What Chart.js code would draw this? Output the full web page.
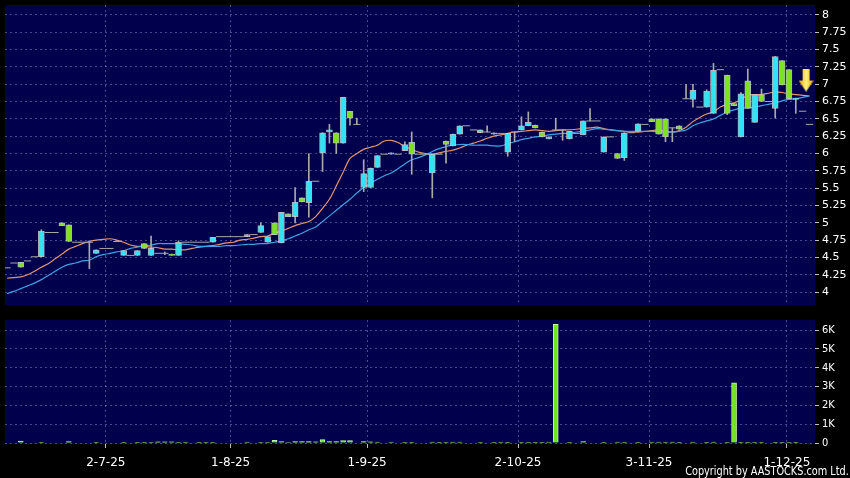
<!DOCTYPE html>
<html>
<head>
<meta charset="utf-8">
<script src="https://cdn.jsdelivr.net/npm/chart.js@4.4.1/dist/chart.umd.min.js"></script>
<style>
  html, body { margin: 0; padding: 0; background: #000; }
  #marco { position: relative; width: 850px; height: 478px; overflow: hidden; background: #000; }
  #precio { position: absolute; left: 0; top: 0; }
  #volumen { position: absolute; left: 0; top: 310px; }
  #copy { position: absolute; right: 1px; top: 464px; color: #fff;
          font: 12px "Liberation Sans Narrow", "DejaVu Sans Condensed", sans-serif; white-space: nowrap;
          transform: scaleX(0.9); transform-origin: right top; }
</style>
</head>
<body>
<div id="marco">
  <canvas id="precio" width="850" height="310"></canvas>
  <canvas id="volumen" width="850" height="168"></canvas>
  <div id="copy">Copyright by AASTOCKS.com Ltd.</div>
</div>
<script>
// Velas diarias (apertura, máximo, mínimo, cierre)
const apertura = [
  4.35, 4.42, 4.43, 4.45, 4.51, 4.51, 4.86, 4.86, 5.00, 4.97,
  4.72, 4.72, 4.72, 4.56, 4.63, 4.63, 4.73, 4.53, 4.53, 4.53,
  4.70, 4.53, 4.56, 4.56, 4.55, 4.53, 4.72, 4.72, 4.72, 4.72,
  4.72, 4.80, 4.80, 4.80, 4.80, 4.80, 4.83, 4.86, 4.72, 5.00,
  4.71, 5.13, 5.09, 5.36, 5.29, 5.60, 6.01, 6.31, 6.30, 6.15,
  6.61, 6.42, 5.51, 5.51, 5.80, 5.99, 6.01, 5.99, 6.04, 6.16,
  5.99, 5.99, 5.72, 5.99, 6.18, 6.11, 6.28, 6.40, 6.34, 6.30,
  6.31, 6.30, 6.29, 6.02, 6.31, 6.34, 6.40, 6.41, 6.31, 6.21,
  6.34, 6.34, 6.21, 6.29, 6.27, 6.47, 6.47, 6.02, 6.24, 6.00,
  5.94, 6.30, 6.32, 6.42, 6.50, 6.50, 6.50, 6.37, 6.40, 6.79,
  6.78, 6.67, 6.67, 6.58, 7.21, 7.13, 6.72, 6.24, 7.05, 6.45,
  6.85, 6.75, 6.65, 7.34, 7.21, 6.78, 6.61, 6.42
];
const maximo = [
  4.35, 4.42, 4.43, 4.45, 4.51, 4.90, 4.86, 4.86, 5.00, 4.97,
  4.72, 4.72, 4.74, 4.61, 4.63, 4.63, 4.73, 4.60, 4.53, 4.60,
  4.70, 4.81, 4.56, 4.58, 4.55, 4.74, 4.72, 4.72, 4.72, 4.72,
  4.79, 4.80, 4.80, 4.80, 4.80, 4.83, 4.83, 5.00, 4.80, 5.00,
  5.15, 5.13, 5.51, 5.36, 6.00, 5.60, 6.30, 6.42, 6.30, 6.81,
  6.61, 6.51, 5.91, 5.79, 5.97, 5.99, 6.01, 5.99, 6.17, 6.31,
  5.99, 5.99, 5.99, 5.99, 6.18, 6.28, 6.40, 6.40, 6.34, 6.34,
  6.40, 6.30, 6.29, 6.29, 6.31, 6.53, 6.60, 6.41, 6.31, 6.24,
  6.51, 6.34, 6.32, 6.29, 6.47, 6.65, 6.47, 6.24, 6.24, 6.00,
  6.30, 6.30, 6.43, 6.42, 6.50, 6.50, 6.50, 6.37, 6.40, 7.00,
  7.00, 6.67, 6.92, 7.30, 7.21, 7.13, 6.72, 6.88, 7.22, 6.85,
  6.93, 6.75, 7.40, 7.34, 7.21, 6.80, 6.61, 6.42
];
const minimo = [
  4.35, 4.42, 4.36, 4.45, 4.51, 4.51, 4.86, 4.86, 4.96, 4.73,
  4.72, 4.72, 4.34, 4.56, 4.63, 4.63, 4.73, 4.53, 4.53, 4.53,
  4.63, 4.53, 4.56, 4.54, 4.53, 4.53, 4.72, 4.72, 4.72, 4.72,
  4.72, 4.80, 4.80, 4.80, 4.80, 4.80, 4.83, 4.86, 4.72, 4.83,
  4.71, 5.09, 5.00, 5.30, 5.08, 5.60, 5.74, 6.15, 6.00, 6.15,
  6.41, 6.42, 5.45, 5.51, 5.80, 5.99, 5.99, 5.99, 6.04, 5.70,
  5.99, 5.99, 5.36, 5.99, 5.86, 6.11, 6.28, 6.40, 6.34, 6.30,
  6.31, 6.28, 6.29, 5.96, 6.17, 6.34, 6.40, 6.37, 6.24, 6.21,
  6.34, 6.19, 6.21, 6.29, 6.27, 6.47, 6.47, 6.02, 6.24, 5.93,
  5.90, 6.30, 6.32, 6.42, 6.46, 6.28, 6.17, 6.17, 6.35, 6.79,
  6.67, 6.67, 6.67, 6.58, 7.21, 6.56, 6.69, 6.24, 6.65, 6.45,
  6.75, 6.75, 6.51, 6.99, 6.79, 6.58, 6.61, 6.42
];
const cierre = [
  4.35, 4.42, 4.36, 4.45, 4.51, 4.88, 4.86, 4.86, 4.96, 4.73,
  4.72, 4.72, 4.72, 4.61, 4.63, 4.63, 4.73, 4.60, 4.53, 4.60,
  4.63, 4.63, 4.56, 4.56, 4.53, 4.72, 4.72, 4.72, 4.72, 4.72,
  4.79, 4.80, 4.80, 4.80, 4.80, 4.83, 4.83, 4.96, 4.80, 4.83,
  5.15, 5.09, 5.30, 5.30, 5.60, 5.60, 6.30, 6.34, 6.15, 6.81,
  6.51, 6.42, 5.71, 5.79, 5.97, 5.99, 5.99, 5.99, 6.13, 5.99,
  5.99, 5.99, 5.99, 5.99, 6.13, 6.28, 6.40, 6.40, 6.34, 6.34,
  6.31, 6.28, 6.29, 6.29, 6.31, 6.40, 6.45, 6.37, 6.24, 6.24,
  6.34, 6.34, 6.32, 6.29, 6.47, 6.47, 6.47, 6.24, 6.24, 5.93,
  6.30, 6.30, 6.43, 6.42, 6.46, 6.28, 6.24, 6.37, 6.35, 6.79,
  6.91, 6.67, 6.90, 7.20, 7.21, 6.58, 6.69, 6.86, 6.65, 6.85,
  6.75, 6.75, 7.40, 6.99, 6.79, 6.80, 6.61, 6.42
];
// Medias móviles (naranja = corta, azul = larga)
const mediaCorta = [
  4.20, 4.21, 4.22, 4.25, 4.30, 4.36, 4.41, 4.48, 4.55, 4.62,
  4.66, 4.70, 4.73, 4.75, 4.76, 4.77, 4.75, 4.72, 4.68, 4.66,
  4.66, 4.65, 4.64, 4.62, 4.62, 4.61, 4.61, 4.63, 4.65, 4.66,
  4.67, 4.69, 4.71, 4.72, 4.75, 4.76, 4.78, 4.80, 4.81, 4.85,
  4.88, 4.92, 4.96, 4.99, 5.02, 5.09, 5.21, 5.34, 5.53, 5.73,
  5.93, 6.00, 6.06, 6.09, 6.12, 6.18, 6.19, 6.16, 6.10, 6.06,
  6.02, 6.00, 5.99, 6.01, 6.03, 6.05, 6.08, 6.12, 6.15, 6.18,
  6.22, 6.25, 6.27, 6.29, 6.31, 6.32, 6.33, 6.34, 6.33, 6.32,
  6.33, 6.34, 6.34, 6.35, 6.36, 6.37, 6.38, 6.36, 6.34, 6.33,
  6.32, 6.31, 6.31, 6.32, 6.33, 6.34, 6.32, 6.31, 6.33, 6.38,
  6.46, 6.52, 6.57, 6.60, 6.67, 6.71, 6.73, 6.78, 6.84, 6.85,
  6.85, 6.87, 6.89, 6.88, 6.86, 6.85, 6.84, 6.83
];
const mediaLarga = [
  3.98, 4.01, 4.05, 4.09, 4.13, 4.18, 4.24, 4.30, 4.36, 4.40,
  4.42, 4.45, 4.46, 4.51, 4.54, 4.56, 4.58, 4.60, 4.63, 4.65,
  4.67, 4.68, 4.70, 4.70, 4.70, 4.70, 4.69, 4.68, 4.66, 4.66,
  4.66, 4.66, 4.67, 4.67, 4.68, 4.69, 4.69, 4.70, 4.70, 4.72,
  4.74, 4.77, 4.81, 4.85, 4.90, 4.94, 5.02, 5.10, 5.18, 5.26,
  5.34, 5.43, 5.51, 5.57, 5.63, 5.68, 5.72, 5.78, 5.85, 5.91,
  5.94, 5.98, 6.03, 6.07, 6.10, 6.12, 6.13, 6.13, 6.12, 6.12,
  6.12, 6.11, 6.11, 6.14, 6.17, 6.20, 6.22, 6.24, 6.25, 6.27,
  6.28, 6.29, 6.29, 6.31, 6.32, 6.34, 6.36, 6.35, 6.34, 6.33,
  6.32, 6.32, 6.32, 6.32, 6.32, 6.31, 6.31, 6.31, 6.32, 6.34,
  6.40, 6.44, 6.47, 6.50, 6.55, 6.60, 6.63, 6.65, 6.66, 6.67,
  6.69, 6.71, 6.73, 6.76, 6.78, 6.79, 6.81, 6.83
];
// Volumen diario (acciones)
const volumen = [
  0, 0, 100, 0, 0, 20, 0, 0, 0, 70,
  0, 0, 0, 20, 0, 0, 0, 20, 0, 20,
  20, 30, 60, 60, 60, 20, 50, 0, 40, 40,
  20, 0, 0, 0, 0, 50, 0, 30, 30, 140,
  80, 30, 70, 70, 70, 60, 180, 70, 70, 130,
  130, 0, 70, 60, 50, 0, 50, 0, 40, 40,
  0, 0, 50, 40, 20, 50, 50, 0, 0, 20,
  0, 20, 50, 20, 0, 20, 20, 20, 20, 50,
  6300, 0, 20, 0, 80, 0, 0, 20, 0, 50,
  20, 0, 20, 0, 50, 50, 50, 50, 20, 0,
  50, 0, 20, 50, 0, 20, 3200, 20, 20, 20,
  20, 0, 40, 20, 20, 20, 0, 0
];
// Fechas del eje X y su posición dentro de la serie
const fechas = ["2-7-25", "1-8-25", "1-9-25", "2-10-25", "3-11-25", "1-12-25"];
const posFechas = [14.4, 32.6, 52.5, 74.5, 93.6, 113.7];
const marcasPrecio = [4, 4.25, 4.5, 4.75, 5, 5.25, 5.5, 5.75, 6, 6.25, 6.5, 6.75, 7, 7.25, 7.5, 7.75, 8];
const marcasVolumen = [0, 1000, 2000, 3000, 4000, 5000, 6000];
const flechaEn = [116.5, 7.06]; // flecha amarilla sobre la última vela

Chart.defaults.font.family = "DejaVu Sans";
Chart.defaults.font.size = 11;
Chart.defaults.color = "#ffffff";

const CIAN = "#30e4f4";
const VERDE = "#80e21c";
const GRIS = "#a9a9a9";
const REJILLA = "rgba(120,120,185,0.6)";

const fondoPanel = {
  id: "fondoPanel",
  beforeDraw(chart) {
    const { ctx, chartArea: a } = chart;
    ctx.save();
    ctx.fillStyle = "#000";
    ctx.fillRect(0, 0, chart.width, chart.height);
    ctx.fillStyle = "#00004c";
    ctx.fillRect(a.left, a.top, a.right - a.left, a.bottom - a.top);
    ctx.restore();
  }
};

// ancho fijo del eje derecho y sin margen extra arriba/abajo por las etiquetas
const ajusteEjeY = s => { s.width = 35; s.paddingTop = 0; s.paddingBottom = 0; };

// armar velas
const cuerpos = [], mechas = [], rayas = [];
cierre.forEach((c, i) => {
  const o = apertura[i];
  if (maximo[i] > minimo[i]) mechas.push({ x: i, y: [minimo[i], maximo[i]] });
  if (o === c) rayas.push({ x: i, y: c });
  else cuerpos.push({ x: i, y: [o, c], sube: c > o });
});

// flecha amarilla
const flecha = document.createElement("canvas");
flecha.width = 15; flecha.height = 23;
(function () {
  const g = flecha.getContext("2d");
  const gr = g.createLinearGradient(0, 0, 15, 0);
  gr.addColorStop(0, "#e3a200");
  gr.addColorStop(0.5, "#fff27a");
  gr.addColorStop(1, "#e3a200");
  g.fillStyle = gr;
  g.beginPath();
  g.moveTo(4, 0); g.lineTo(11, 0); g.lineTo(11, 12); g.lineTo(15, 12);
  g.lineTo(7.5, 23); g.lineTo(0, 12); g.lineTo(4, 12); g.closePath();
  g.fill();
})();

const ejeX = {
  type: "linear",
  offset: false,
  min: -0.3,
  max: 117.8,
  afterBuildTicks: s => { s.ticks = posFechas.map(v => ({ value: v })); },
  grid: { color: REJILLA, drawTicks: false, offset: false },
  border: { display: false, dash: [2, 3] },
  ticks: { display: false }
};

new Chart(document.getElementById("precio"), {
  type: "bar",
  data: {
    datasets: [
      { type: "line", data: mediaCorta.map((v, i) => ({ x: i, y: v })), borderColor: "#e39572",
        borderWidth: 1.2, pointRadius: 0, tension: 0.3, order: 5 },
      { type: "line", data: mediaLarga.map((v, i) => ({ x: i, y: v })), borderColor: "#3fa2e6",
        borderWidth: 1.2, pointRadius: 0, tension: 0.3, order: 4 },
      { data: mechas, backgroundColor: GRIS, barThickness: 1, grouped: false, order: 3 },
      { data: cuerpos, grouped: false, barThickness: 6, borderWidth: 1, borderSkipped: false,
        borderColor: "rgba(200,210,210,0.85)",
        backgroundColor: ctx => (ctx.raw && ctx.raw.sube ? CIAN : VERDE), order: 2 },
      { type: "line", data: rayas, showLine: false, pointStyle: "line", pointRadius: 3.6,
        borderColor: GRIS, borderWidth: 1, order: 1 },
      { type: "line", data: [{ x: flechaEn[0], y: flechaEn[1] }], showLine: false,
        pointStyle: flecha, order: 0 }
    ]
  },
  options: {
    responsive: false,
    animation: false,
    devicePixelRatio: 1,
    layout: { padding: { left: 5, top: 2, bottom: 5, right: 0 } },
    plugins: { legend: { display: false }, tooltip: { enabled: false } },
    scales: {
      x: Object.assign({}, ejeX, { afterFit: s => { s.height = 0; } }),
      y: {
        position: "right",
        min: 3.814,
        max: 8.143,
        afterBuildTicks: s => { s.ticks = marcasPrecio.map(v => ({ value: v })); },
        afterFit: ajusteEjeY,
        grid: { color: REJILLA, tickColor: "#bdbdbd", tickLength: 4, tickBorderDash: [] },
        border: { display: false, dash: [2, 3] },
        ticks: { padding: 3, color: "#fff", callback: v => String(v) }
      }
    }
  },
  plugins: [fondoPanel]
});

new Chart(document.getElementById("volumen"), {
  type: "bar",
  data: {
    datasets: [
      { data: volumen.map((v, i) => ({ x: i, y: v })).filter(d => d.y > 0),
        backgroundColor: "#6fe61a", borderColor: "#c4f7a0", borderWidth: 1, borderSkipped: "bottom",
        barThickness: 5 }
    ]
  },
  options: {
    responsive: false,
    animation: false,
    devicePixelRatio: 1,
    layout: { padding: { left: 5, top: 10, bottom: 0, right: 0 } },
    plugins: { legend: { display: false }, tooltip: { enabled: false } },
    scales: {
      x: Object.assign({}, ejeX, {
        afterFit: s => { s.height = 34; },
        grid: { color: REJILLA, tickColor: "#bdbdbd", tickLength: 4, tickBorderDash: [], offset: false },
        ticks: { display: true, padding: 8, color: "#fff", font: { size: 12 }, maxRotation: 0,
                 callback: (v, i) => fechas[i] }
      }),
      y: {
        position: "right",
        min: -53,
        max: 6531,
        afterBuildTicks: s => { s.ticks = marcasVolumen.map(v => ({ value: v })); },
        afterFit: ajusteEjeY,
        grid: { color: REJILLA, tickColor: "#bdbdbd", tickLength: 4, tickBorderDash: [] },
        border: { display: false, dash: [2, 3] },
        ticks: { padding: 3, color: "#fff", font: { family: "DejaVu Sans Condensed", size: 11 },
                 callback: v => (v === 0 ? "0" : v / 1000 + "K") }
      }
    }
  },
  plugins: [fondoPanel]
});
</script>
</body>
</html>
